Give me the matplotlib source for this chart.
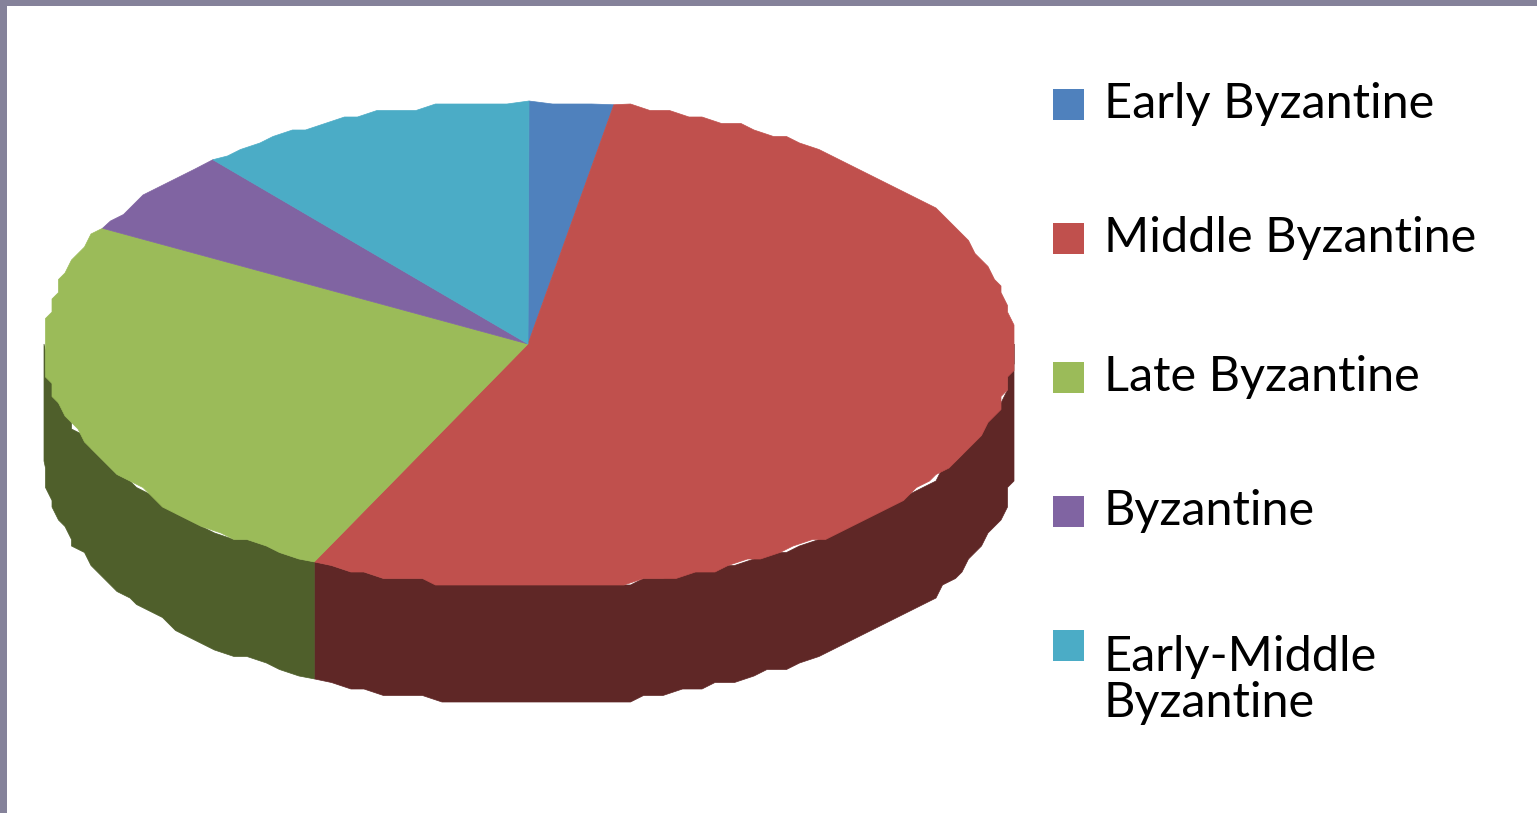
import numpy as np
import matplotlib.pyplot as plt
from matplotlib.patches import Rectangle

labels = ['Early Byzantine', 'Middle Byzantine', 'Late Byzantine', 'Byzantine', 'Early-Middle\nByzantine']
shares = [2.8, 54.5, 25.6, 5.8, 11.3]
top_colors = ['#4f81bd', '#c0504d', '#9bbb59', '#8064a2', '#4bacc6']
wall_colors = ['#2a4560', '#5f2726', '#4f5f2b', '#403250', '#255e6b']

legend_y = [105, 239, 378, 512, 646]

W, H = 1537, 813
CX, CY, RX, RY = 529, 344, 485, 243
DEPTH = 117
GRID = 6.5


def rim(a0, a1, jag=True):
    # points on the ellipse, a = degrees clockwise from the top
    n = max(int(abs(a1 - a0) / 2.2), 1)
    a = np.radians(np.linspace(a0, a1, n + 1))
    x = CX + RX * np.sin(a)
    y = CY - RY * np.cos(a)
    if jag:
        # low res outline of the original picture
        x[1:-1] = np.round(x[1:-1] / GRID) * GRID
        y[1:-1] = np.round(y[1:-1] / GRID) * GRID
    return x, y


plt.rcParams['font.family'] = ['Lato', 'DejaVu Sans']
fig = plt.figure(figsize=(W / 100, H / 100), dpi=100)
ax = fig.add_axes([0, 0, 1, 1])
ax.set_xlim(0, W)
ax.set_ylim(H, 0)
ax.axis('off')

ends = np.cumsum(shares) / np.sum(shares) * 360
starts = np.r_[0, ends[:-1]]

# side walls first, only the front half shows
for a0, a1, c in zip(starts, ends, wall_colors):
    lo, hi = max(a0, 90), min(a1, 270)
    if lo >= hi:
        continue
    x, y = rim(lo, hi)
    ax.fill(np.r_[x, x[::-1]], np.r_[y, y[::-1] + DEPTH], color=c, lw=0.5)

# top face
for a0, a1, c in zip(starts, ends, top_colors):
    x, y = rim(a0, a1)
    ax.fill(np.r_[CX - 1, x], np.r_[CY, y], color=c, lw=0.5)

# legend
for lab, c, ly in zip(labels, top_colors, legend_y):
    ax.add_patch(Rectangle((1053, ly - 16), 31, 31, color=c, lw=0))
    ax.text(1104, ly - 1 if '\n' not in lab else ly + 34, lab, fontsize=35, color='black',
            va='center', ha='left', linespacing=1.05)

# grey frame top and left
ax.add_patch(Rectangle((0, 0), W, 6.5, color='#85829a', lw=0))
ax.add_patch(Rectangle((0, 0), 6.5, H, color='#85829a', lw=0))

fig.savefig('out.png', dpi=100)
